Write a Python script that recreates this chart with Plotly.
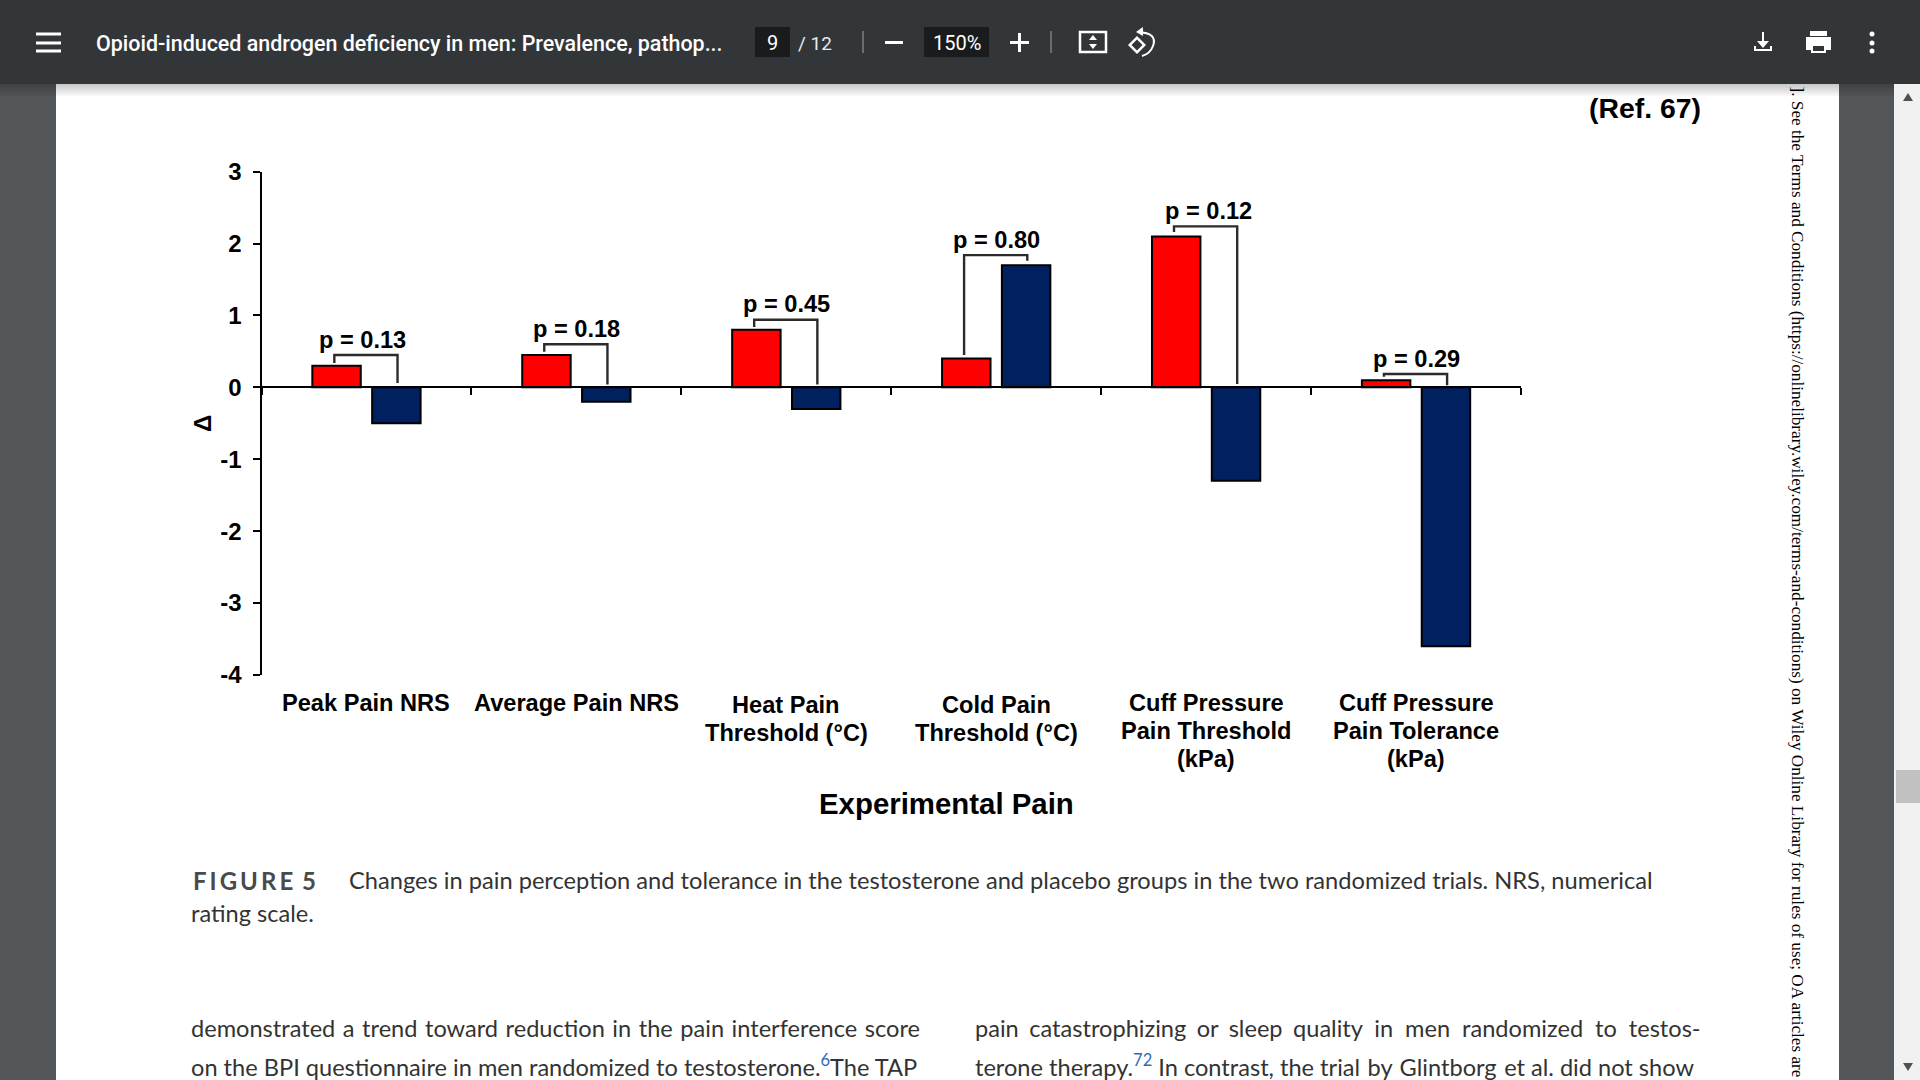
import plotly.graph_objects as go

# ---------- data ----------
categories = ["Peak Pain NRS", "Average Pain NRS", "Heat Pain Threshold (°C)",
              "Cold Pain Threshold (°C)", "Cuff Pressure Pain Threshold (kPa)",
              "Cuff Pressure Pain Tolerance (kPa)"]
label_lines = [["Peak Pain NRS"], ["Average Pain NRS"], ["Heat Pain", "Threshold (°C)"],
               ["Cold Pain", "Threshold (°C)"], ["Cuff Pressure", "Pain Threshold", "(kPa)"],
               ["Cuff Pressure", "Pain Tolerance", "(kPa)"]]
testosterone = [0.3, 0.45, 0.8, 0.4, 2.1, 0.1]
placebo = [-0.5, -0.2, -0.3, 1.7, -1.3, -3.6]
p_labels = ["p = 0.13", "p = 0.18", "p = 0.45", "p = 0.80", "p = 0.12", "p = 0.29"]
p_label_x = [-0.018, 0.0, 0.0, 0.0, 0.01, 0.0]
bracket_top = [0.45, 0.60, 0.94, 1.84, 2.24, 0.185]
bracket_left_end = [0.34, 0.495, 0.84, 0.45, 2.16, 0.148]
bracket_right_end = [0.06, 0.04, 0.04, 1.76, 0.045, 0.03]
y_ticks = [3, 2, 1, 0, -1, -2, -3, -4]
y_tick_text = ["3", "2", "1", "0", "-1", "-2", "-3", "-4"]

W, H = 1920, 1080
def fx(x): return x / W
def fy(y): return 1 - y / H

fig = go.Figure()
idx = list(range(len(categories)))
fig.add_bar(x=idx, y=testosterone, name="Testosterone", marker=dict(color="#ff0000", line=dict(color="#000", width=2)))
fig.add_bar(x=idx, y=placebo, name="Placebo", marker=dict(color="#002060", line=dict(color="#000", width=2)))
for i in idx:
    fig.add_scatter(x=[i - 0.153, i - 0.153, i + 0.148, i + 0.148],
                    y=[bracket_left_end[i], bracket_top[i], bracket_top[i], bracket_right_end[i]],
                    mode="lines", line=dict(color="#2b2b2b", width=2.4), hoverinfo="skip")

shapes = []
def rect(x0, y0, x1, y1, color, opacity=1, line=None):
    shapes.append(dict(type="rect", xref="paper", yref="paper", x0=fx(x0), x1=fx(x1), y0=fy(y0), y1=fy(y1),
                       fillcolor=color, opacity=opacity, line=dict(width=0) if line is None else line, layer="below"))
def seg(x0, y0, x1, y1, color="#fff", w=2):
    shapes.append(dict(type="line", xref="paper", yref="paper", x0=fx(x0), x1=fx(x1), y0=fy(y0), y1=fy(y1),
                       line=dict(color=color, width=w), layer="below"))
def poly(pts, fill="#fff"):
    d = "M " + " L ".join(f"{fx(x):.5f},{fy(y):.5f}" for x, y in pts) + " Z"
    shapes.append(dict(type="path", xref="paper", yref="paper", path=d, fillcolor=fill, line=dict(width=0), layer="below"))

# page and viewer chrome
rect(56, 0, 1839, H, "#ffffff")
rect(1894, 0, 1920, H, "#f1f1f1")
rect(1896, 770, 1920, 803, "#c1c1c1")
poly([(1903, 101), (1908, 93), (1913, 101)], "#505050")
poly([(1903, 1063), (1908, 1071), (1913, 1063)], "#505050")
for k in range(6):
    rect(0, 84, 1894, 84 + 2 * (k + 1), "#000000", 0.035)
rect(0, 0, 1920, 84, "#323639")
for yy in (34, 43, 51):
    rect(36, yy - 1.5, 61, yy + 1.5, "#ffffff")
rect(755, 27, 790, 57, "#191b1c")
rect(924, 27, 989, 57, "#191b1c")
rect(862, 31, 864, 53, "#6a6d70")
rect(1050, 31, 1052, 53, "#6a6d70")
rect(885, 41, 903, 44, "#ffffff")
rect(1010, 41, 1029, 44, "#ffffff")
rect(1018, 33, 1021, 52, "#ffffff")
# fit icon
shapes.append(dict(type="rect", xref="paper", yref="paper", x0=fx(1080), x1=fx(1106), y0=fy(32), y1=fy(52),
                   line=dict(color="#fff", width=2.5), layer="below"))
poly([(1089, 40), (1093, 35), (1097, 40)])
poly([(1089, 44), (1093, 49), (1097, 44)])
# rotate icon
poly([(1137, 36), (1146, 45), (1137, 54), (1128, 45)], "#ffffff")
poly([(1137, 39.5), (1142.5, 45), (1137, 50.5), (1131.5, 45)], "#323639")
shapes.append(dict(type="path", xref="paper", yref="paper",
                   path=f"M {fx(1138):.5f},{fy(32):.5f} Q {fx(1158):.5f},{fy(33):.5f} {fx(1153):.5f},{fy(46):.5f} Q {fx(1150):.5f},{fy(54):.5f} {fx(1142):.5f},{fy(56):.5f}",
                   line=dict(color="#fff", width=2), layer="below"))
poly([(1143, 27), (1143, 36), (1136, 32)])
# download icon
seg(1763, 32, 1763, 46)
poly([(1757, 41), (1763, 48), (1769, 41)])
seg(1755, 46, 1755, 50)
seg(1771, 46, 1771, 50)
seg(1754, 50, 1772, 50)
# print icon
rect(1810, 31, 1827, 36, "#ffffff")
rect(1806, 37, 1831, 50, "#ffffff")
rect(1811, 45, 1826, 53, "#ffffff")
rect(1813, 46, 1824, 51, "#323639")
# more icon
for yy in (34, 43, 51):
    shapes.append(dict(type="circle", xref="paper", yref="paper", x0=fx(1869.5), x1=fx(1874.5), y0=fy(yy - 2.5), y1=fy(yy + 2.5),
                       fillcolor="#fff", line=dict(width=0), layer="below"))

ann = []
def text(x, y, s, size, color="#000", family="Liberation Sans", weight=400, xanchor="left", angle=0, yanchor="middle"):
    ann.append(dict(xref="paper", yref="paper", x=fx(x), y=fy(y), text=s, showarrow=False,
                    xanchor=xanchor, yanchor=yanchor, textangle=angle,
                    font=dict(family=family, size=size, color=color, weight=weight)))

# x category labels and p values tied to the data axis
CHART = "Liberation Sans"
line_rows = {1: [703], 2: [705, 733], 3: [703, 731, 759]}
for i, lines in enumerate(label_lines):
    for ln, row in zip(lines, line_rows[len(lines)]):
        ann.append(dict(xref="x", yref="paper", x=i, y=fy(row), text=ln, showarrow=False, xanchor="center", yanchor="middle",
                        font=dict(family=CHART, size=23.6, color="#000", weight=700)))
for i, lab in enumerate(p_labels):
    ann.append(dict(xref="x", yref="y", x=i + p_label_x[i], y=bracket_top[i], yshift=0.5, text=lab, showarrow=False,
                    xanchor="center", yanchor="bottom", font=dict(family=CHART, size=23.6, color="#000", weight=700)))
text(946.5, 803, "Experimental Pain", 29.4, weight=700, xanchor="center")
text(1703, 108, "(Ref. 67)", 28.4, weight=700, xanchor="right")

# viewer text
text(94, 43, "Opioid-induced androgen deficiency in men: Prevalence, pathop...", 21.45, "#fff", "Roboto", 500)
text(772.5, 43, "9", 20, "#fff", "Roboto", xanchor="center")
text(796, 43, "/ 12", 19, "#e8eaed", "Roboto")
text(956.5, 43, "150%", 20, "#fff", "Roboto", xanchor="center")
# page text
BODY = "Lato"
INK = "#333333"
HS = " \u200a"
TS = " \u2009\u200a\u200a"
TS2 = " \u2009\u200a"
def sup(s): return f'<sup><span style="color:#2f6db5">{s}</span></sup>'
text(190.5, 880, "F\u2009I\u2009G\u2009U\u2009R\u2009E\u2009 5", 24, "#4a4a4a", BODY, 700)
text(347, 880, "Changes in pain perception and tolerance in the testosterone and placebo groups in the two randomized trials. NRS, numerical", 23.65, INK, BODY)
text(189, 913, "rating scale.", 23.6, INK, BODY)
text(189, 1028, "demonstrated a trend toward reduction in the pain interference score".replace(" ", HS), 23.6, INK, BODY)
text(189, 1065, "on the BPI questionnaire in men randomized to testosterone." + sup("6") + "The TAP", 23.6, INK, BODY)
text(973, 1028, "pain catastrophizing or sleep quality".replace(" ", TS2) + TS + "in men randomized to testos-".replace(" ", TS), 23.6, INK, BODY)
text(973, 1065, "terone therapy." + sup("72") + " In contrast, the trial" + HS + "by" + HS + "Glintborg" + HS + "et al. did not show", 23.6, INK, BODY)
text(1797, 84, "]. See the Terms and Conditions (https://onlinelibrary.wiley.com/terms-and-conditions) on Wiley Online Library for rules of use; OA articles are",
     17.2, "#000", "Liberation Serif", xanchor="center", angle=90, yanchor="top")

fig.update_layout(
    width=W, height=H, margin=dict(l=0, r=0, t=0, b=0), autosize=False,
    paper_bgcolor="#525659", plot_bgcolor="rgba(0,0,0,0)", showlegend=False,
    barmode="group", bargap=0.43, bargroupgap=0.19,
    shapes=shapes, annotations=ann,
    xaxis=dict(domain=[fx(261.5), fx(1521)], range=[-0.5, 5.5], anchor="free", position=fy(387.3), automargin=False,
               tickmode="array", tickvals=[-0.5, 0.5, 1.5, 2.5, 3.5, 4.5, 5.5], showticklabels=False,
               ticks="outside", ticklen=7, tickwidth=2, tickcolor="#000",
               showline=True, linecolor="#000", linewidth=2, showgrid=False, zeroline=False),
    yaxis=dict(domain=[fy(674.9), fy(171.7)], range=[-4, 3], anchor="x", automargin=False, tickmode="array",
               tickvals=y_ticks, ticktext=y_tick_text, ticklabelstandoff=6,
               ticks="outside", ticklen=7, tickwidth=2, tickcolor="#000", showline=True, linecolor="#000", linewidth=2,
               showgrid=False, zeroline=False,
               tickfont=dict(family=CHART, size=24, color="#000", weight=700),
               title=dict(text="Δ", standoff=2, font=dict(family=CHART, size=24, color="#000", weight=700))),
)
fig.write_html("out.html", config=dict(displayModeBar=False),
               post_script="document.body.style.margin='0';document.documentElement.style.overflow='hidden';")
